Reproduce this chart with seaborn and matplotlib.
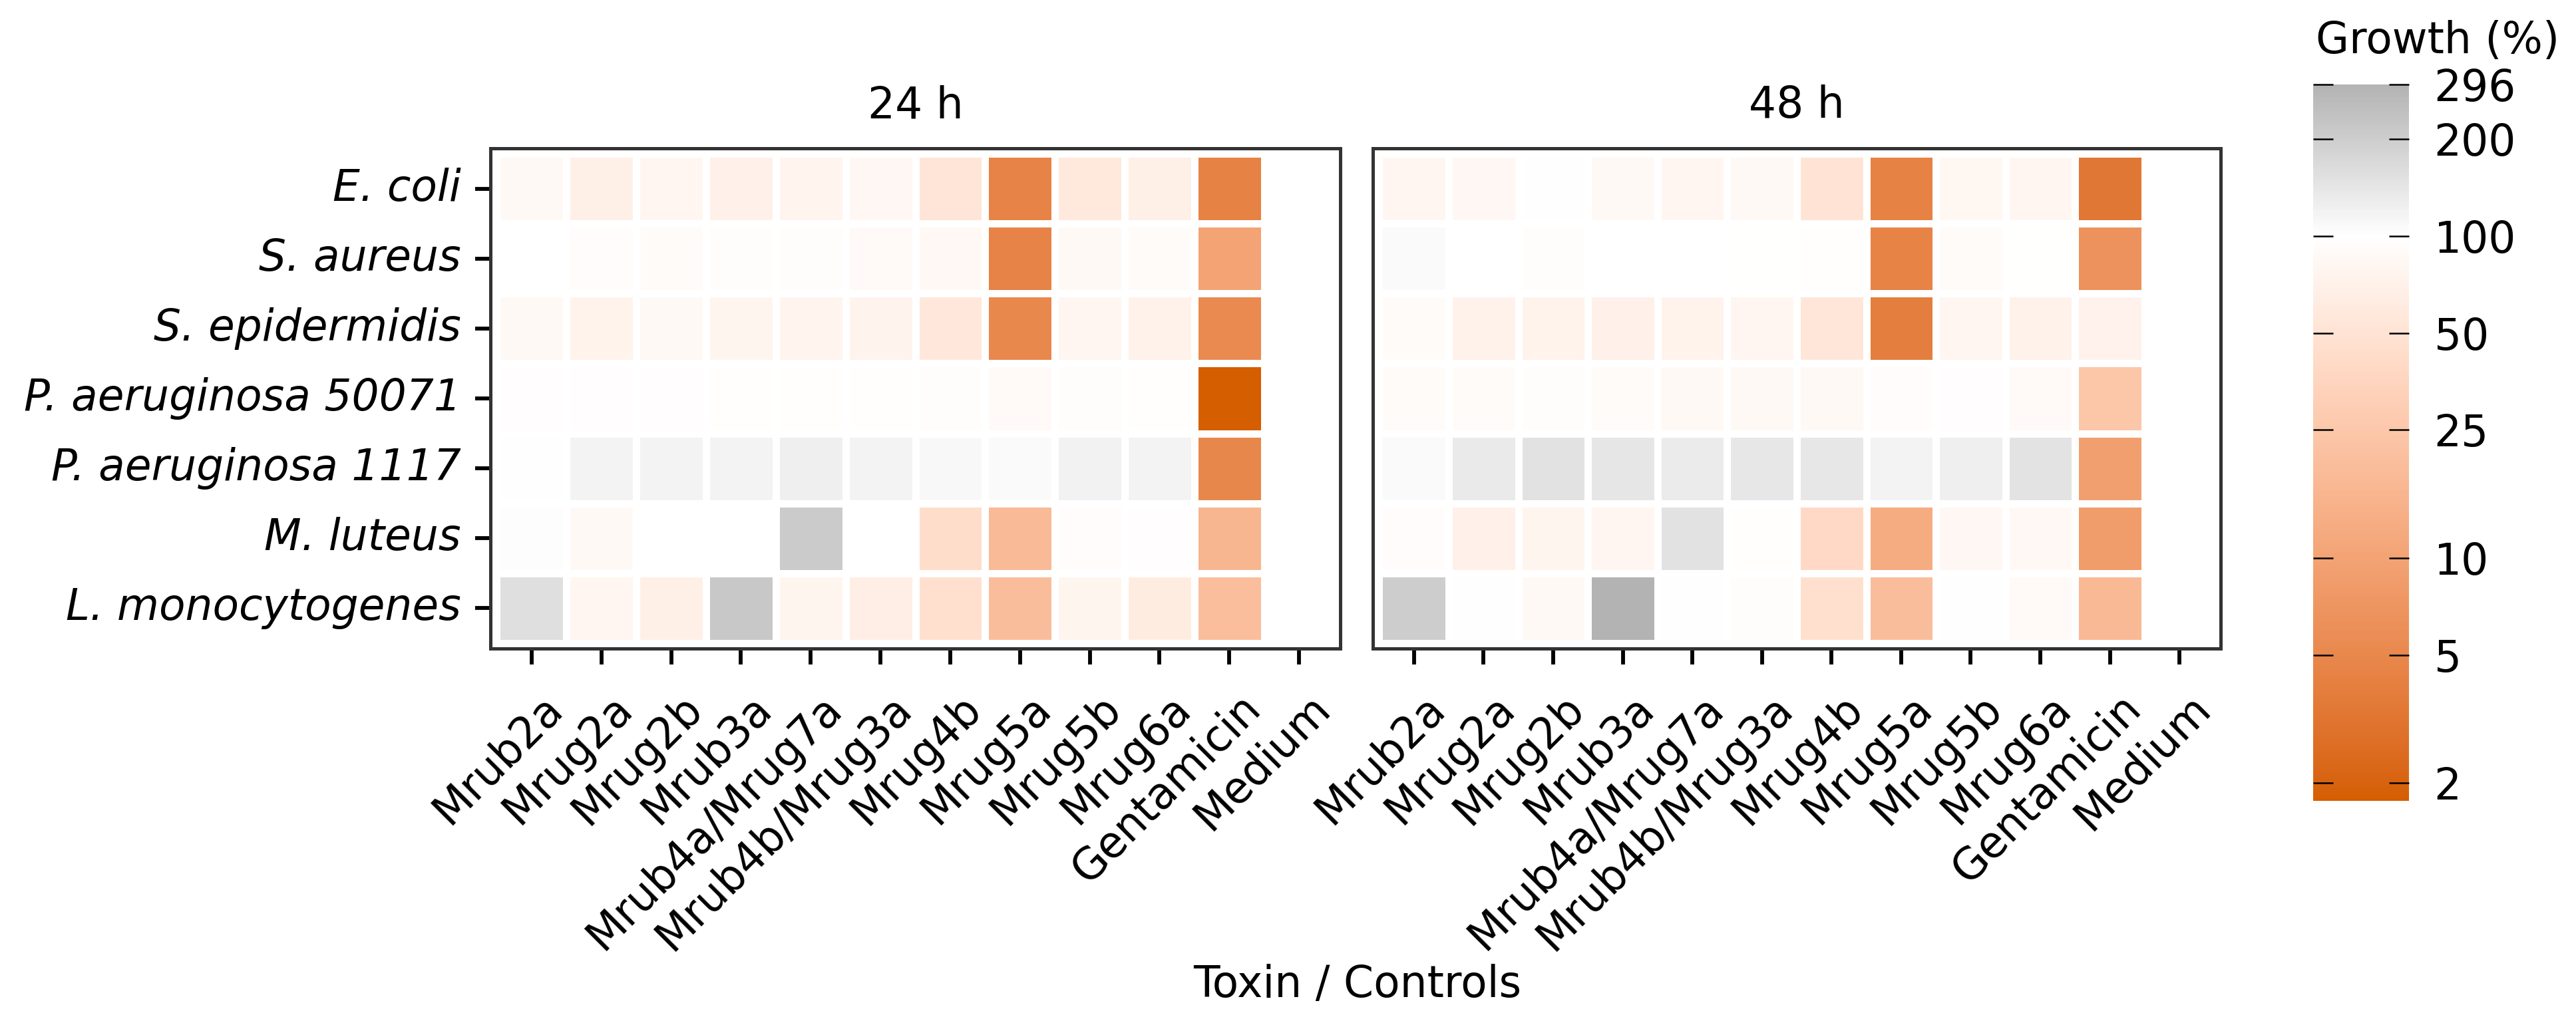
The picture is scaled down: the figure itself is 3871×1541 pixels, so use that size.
import numpy as np
import pandas as pd
import matplotlib
matplotlib.use("Agg")
import matplotlib.pyplot as plt
import matplotlib.colors as mcolors
import matplotlib.transforms as mtrans
import seaborn as sns

# data (growth in % of medium control)
strains = ["E. coli", "S. aureus", "S. epidermidis", "P. aeruginosa 50071",
           "P. aeruginosa 1117", "M. luteus", "L. monocytogenes"]
treatments = ["Mrub2a", "Mrug2a", "Mrug2b", "Mrub3a", "Mrub4a/Mrug7a", "Mrub4b/Mrug3a",
              "Mrug4b", "Mrug5a", "Mrug5b", "Mrug6a", "Gentamicin", "Medium"]

growth_24h = [
    [85, 68, 80, 70, 76, 82, 52, 4.5, 58, 68, 4.3, 100],
    [100, 93, 90, 94, 94, 89, 84, 4.5, 87, 91, 10, 100],
    [86, 74, 85, 78, 76, 75, 56, 5.0, 80, 72, 5.3, 100],
    [96, 96, 96, 97, 97, 97, 95, 88, 95, 97, 1.76, 100],
    [101, 119, 117, 117, 124, 117, 110, 107, 120, 117, 4.9, 100],
    [102, 86, 100, 100, 207, 100, 43, 18, 93, 96, 16, 100],
    [156, 80, 68, 216, 78, 66, 46, 19.5, 78, 62, 20, 100],
]
growth_48h = [
    [79, 82, 98, 85, 80, 86, 51, 4.3, 81, 79, 3.3, 100],
    [107, 100, 94, 100, 100, 99, 97, 4.4, 90, 99, 6.5, 100],
    [90, 72, 74, 70, 74, 79, 53, 3.9, 80, 72, 73, 100],
    [91, 90, 94, 90, 86, 87, 86, 93, 96, 88, 24, 100],
    [107, 133, 149, 141, 131, 139, 139, 119, 125, 147, 9.0, 100],
    [93, 70, 78, 79, 149, 97, 39, 12.5, 82, 84, 8.4, 100],
    [201, 98, 86, 296, 98, 95, 46, 19.5, 98, 88, 17.5, 100],
]
panels = ["24 h", "48 h"]
cbar_ticks = [2, 5, 10, 25, 50, 100, 200, 296]

sns.set_style("white")
plt.rcParams["font.family"] = ["DejaVu Sans"]
plt.rcParams["font.size"] = 15.5
plt.rcParams["text.color"] = "black"
plt.rcParams["xtick.labelcolor"] = "black"
plt.rcParams["ytick.labelcolor"] = "black"

W, H = 3871, 1541
fig = plt.figure(figsize=(W / 300, H / 300), dpi=300)


def box(x0, y0, x1, y1):
    return [x0 / W, 1 - y1 / H, (x1 - x0) / W, (y1 - y0) / H]


# gradient through white, interpolated in Lab like ggplot's gradient2
WHITE = np.array([0.9505, 1.0, 1.089])
M_RGB2XYZ = np.array([[0.4124, 0.3576, 0.1805],
                      [0.2126, 0.7152, 0.0722],
                      [0.0193, 0.1192, 0.9505]])


def to_lab(hexcol):
    rgb = np.array(mcolors.to_rgb(hexcol))
    lin = np.where(rgb <= 0.04045, rgb / 12.92, ((rgb + 0.055) / 1.055) ** 2.4)
    xyz = M_RGB2XYZ @ lin / WHITE
    f = np.where(xyz > 0.008856, np.cbrt(xyz), 7.787 * xyz + 16 / 116)
    return np.array([116 * f[1] - 16, 500 * (f[0] - f[1]), 200 * (f[1] - f[2])])


def from_lab(lab):
    fy = (lab[0] + 16) / 116
    f = np.array([fy + lab[1] / 500, fy, fy - lab[2] / 200])
    xyz = np.where(f ** 3 > 0.008856, f ** 3, (f - 16 / 116) / 7.787) * WHITE
    lin = np.linalg.solve(M_RGB2XYZ, xyz)
    lin = np.clip(lin, 0, 1)
    rgb = np.where(lin <= 0.0031308, 12.92 * lin, 1.055 * lin ** (1 / 2.4) - 0.055)
    return np.clip(rgb, 0, 1)


vmin = min(min(r) for r in growth_24h + growth_48h)
vmax = max(max(r) for r in growth_24h + growth_48h)
mid = (np.log(100) - np.log(vmin)) / (np.log(vmax) - np.log(vmin))
lab_low, lab_mid, lab_high = to_lab("#d55e00"), to_lab("#ffffff"), to_lab("#b3b3b3")
cols = []
for p in np.linspace(0, 1, 512):
    if p <= mid:
        t = (mid - p) / mid
        cols.append(from_lab(lab_mid + t * (lab_low - lab_mid)))
    else:
        t = (p - mid) / (1 - mid)
        cols.append(from_lab(lab_mid + t * (lab_high - lab_mid)))
cmap = mcolors.ListedColormap(cols, name="growth")
norm = mcolors.LogNorm(vmin=vmin, vmax=vmax)

axes = [fig.add_axes(box(737, 223, 2014, 975)), fig.add_axes(box(2063, 223, 3337, 975))]
cax = fig.add_axes(box(3476, 127, 3620, 1204))

for i, (ax, title, vals) in enumerate(zip(axes, panels, [growth_24h, growth_48h])):
    df = pd.DataFrame(vals, index=strains, columns=treatments)
    sns.heatmap(df, ax=ax, cmap=cmap, norm=norm, cbar=(i == 0), cbar_ax=cax if i == 0 else None,
                linewidths=2.2, linecolor="white", xticklabels=treatments,
                yticklabels=strains if i == 0 else False)
    ax.set_xlim(-0.09, 12.09)
    ax.set_ylim(7.08, -0.08)
    for sp in ax.spines.values():
        sp.set_visible(True)
        sp.set_color("#333333")
        sp.set_linewidth(1.2)
    ax.set_title(title, pad=11, fontsize=15.5, color="black")
    ax.set_xlabel("")
    ax.set_ylabel("")
    ax.tick_params(axis="x", bottom=True, length=5.8, width=1.4, color="black", pad=8,
                   labelcolor="black")
    if i == 0:
        ax.tick_params(axis="y", left=True, length=5.6, width=1.4, color="black", pad=5,
                       labelcolor="black")
        for lab in ax.get_yticklabels():
            lab.set_fontstyle("italic")
            lab.set_rotation(0)
    else:
        ax.tick_params(axis="y", left=False)
    offset = mtrans.ScaledTranslation(14 / 300, 0, fig.dpi_scale_trans)
    for lab in ax.get_xticklabels():
        lab.set_rotation(45)
        lab.set_ha("right")
        lab.set_va("top")
        lab.set_rotation_mode("anchor")
        lab.set_transform(lab.get_transform() + offset)

cbar = axes[0].collections[0].colorbar
cbar.outline.set_visible(False)
cax.set_axisbelow(False)
cax.set_yticks(cbar_ticks)
cax.set_yticklabels([str(t) for t in cbar_ticks])
cax.minorticks_off()
cax.tick_params(axis="y", which="major", left=True, right=True, direction="in",
                length=7.2, width=0.6, color="black", labelleft=False, labelright=True,
                pad=9, labelsize=15.5, labelcolor="black")

fig.text(3480 / W, 1 - 80 / H, "Growth (%)", ha="left", va="baseline", fontsize=15.5)
fig.text(2040 / W, 1 - 1481 / H, "Toxin / Controls", ha="center", va="center", fontsize=15.5)

fig.savefig("out.png", dpi=300, facecolor="white")
